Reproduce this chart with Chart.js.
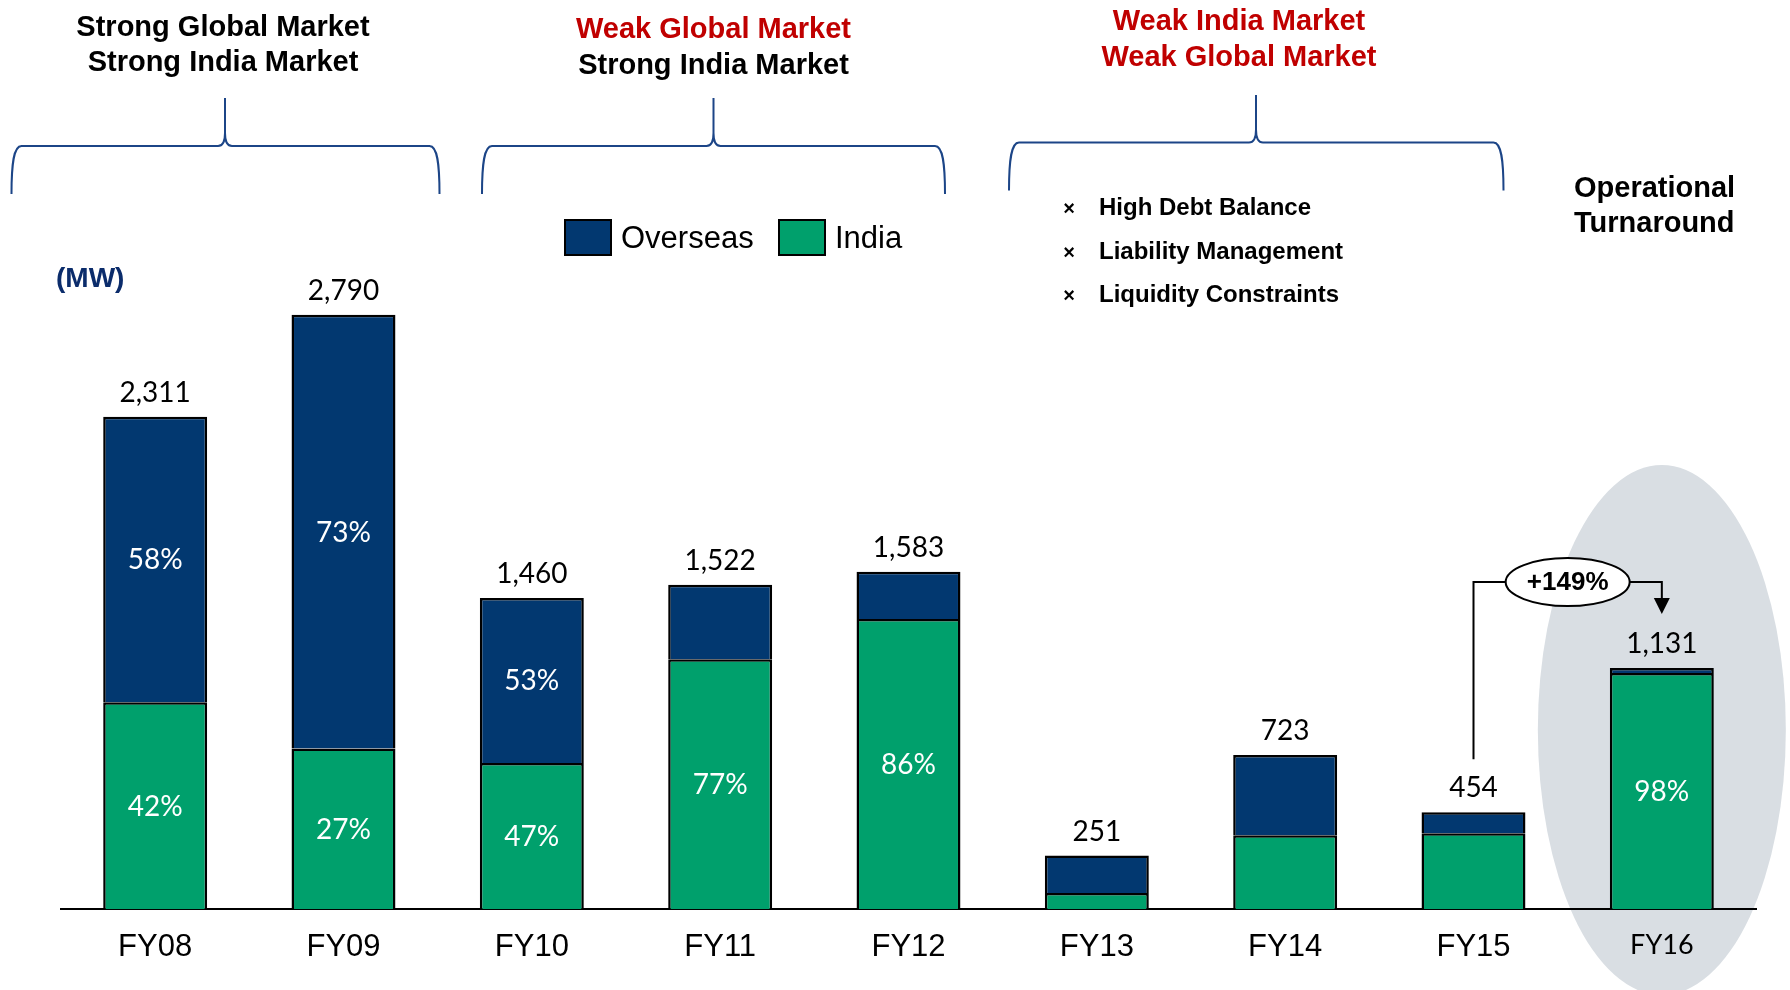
<!DOCTYPE html>
<html><head><meta charset="utf-8">
<script src="https://cdn.jsdelivr.net/npm/chart.js@4.4.1/dist/chart.umd.min.js"></script>
<style>html,body{margin:0;padding:0;background:#fff;}canvas{display:block;}</style>
</head><body>
<canvas id="c" width="1790" height="990"></canvas>
<script>
// ---------- data ----------
const categories = ['FY08','FY09','FY10','FY11','FY12','FY13','FY14','FY15','FY16'];
const indiaMW    = [971, 753, 686, 1172, 1361, 75, 346, 356, 1108];
const overseasMW = [1340, 2037, 774, 350, 222, 176, 377, 98, 23];
const indiaPctLabels    = ['42%','27%','47%','77%','86%',null,null,null,'98%'];
const overseasPctLabels = ['58%','73%','53%',null,null,null,null,null,null];
const seriesNames = ['Overseas','India'];
const unitLabel = '(MW)';
const bulletPoints = ['High Debt Balance','Liability Management','Liquidity Constraints'];
const phaseTitles = [
  [['Strong Global Market','#000'],['Strong India Market','#000']],
  [['Weak Global Market','#C00000'],['Strong India Market','#000']],
  [['Weak India Market','#C00000'],['Weak Global Market','#C00000']]
];
const turnaroundTitle = ['Operational','Turnaround'];

const NAVY = '#023870', GREEN = '#00A06C', BRACE = '#1c4587';
const ARIAL = '"Liberation Sans", Arial, sans-serif';
const CAL = 'Lato, "Open Sans", sans-serif';

function fmt(n){ return n.toLocaleString('en-US'); }

function brace(ctx, x0, x1, xc, yEnd, yH, yTip){
  const r = 10, tw = 7, th = 13;
  ctx.beginPath();
  ctx.moveTo(x0, yEnd);
  ctx.bezierCurveTo(x0, yH + 18, x0 + 2, yH, x0 + r, yH);
  ctx.lineTo(xc - tw, yH);
  ctx.quadraticCurveTo(xc, yH, xc, yH - th);
  ctx.lineTo(xc, yTip);
  ctx.moveTo(xc, yH - th);
  ctx.quadraticCurveTo(xc, yH, xc + tw, yH);
  ctx.lineTo(x1 - r, yH);
  ctx.bezierCurveTo(x1 - 2, yH, x1, yH + 18, x1, yEnd);
  ctx.stroke();
}

const decor = {
  id: 'decor',
  beforeDraw(chart){
    const ctx = chart.ctx, xs = chart.scales.x;
    const cx = xs.getPixelForValue(8);
    ctx.save();
    ctx.fillStyle = '#D9DEE3';
    ctx.beginPath();
    ctx.ellipse(cx, 730, 124, 265, 0, 0, Math.PI*2);
    ctx.fill();
    ctx.restore();
  },
  afterDatasetsDraw(chart){
    const ctx = chart.ctx, xs = chart.scales.x, ys = chart.scales.y;
    const mIndia = chart.getDatasetMeta(0), mOver = chart.getDatasetMeta(1);
    ctx.save();
    ctx.textAlign = 'center'; ctx.textBaseline = 'middle';
    ctx.fillStyle = '#fff';
    ctx.font = '28px ' + CAL;
    categories.forEach((c,i)=>{
      const bi = mIndia.data[i], bo = mOver.data[i];
      if (indiaPctLabels[i]) ctx.fillText(indiaPctLabels[i], bi.x, (bi.y + bi.base)/2 + 1);
      if (overseasPctLabels[i]) ctx.fillText(overseasPctLabels[i], bo.x, (bo.y + bo.base)/2 + 1);
    });
    ctx.fillStyle = '#000';
    ctx.font = '28px ' + CAL;
    const totals = categories.map((c,i)=>indiaMW[i]+overseasMW[i]);
    categories.forEach((c,i)=>{
      const x = xs.getPixelForValue(i), y = ys.getPixelForValue(totals[i]);
      ctx.fillText(fmt(totals[i]), x, y - 24);
    });
    // growth annotation FY15 -> FY16
    const i0 = 7, i1 = 8;
    const x0 = xs.getPixelForValue(i0), x1 = xs.getPixelForValue(i1);
    const t0 = ys.getPixelForValue(totals[i0]), t1 = ys.getPixelForValue(totals[i1]);
    const lineY = t1 - 86;
    const ecx = (x0 + x1)/2, erx = 62, ery = 24;
    ctx.strokeStyle = '#000'; ctx.lineWidth = 2;
    ctx.beginPath();
    ctx.moveTo(x0, t0 - 53); ctx.lineTo(x0, lineY); ctx.lineTo(ecx - erx, lineY);
    ctx.moveTo(ecx + erx, lineY); ctx.lineTo(x1, lineY); ctx.lineTo(x1, t1 - 68);
    ctx.stroke();
    ctx.fillStyle = '#000';
    ctx.beginPath();
    ctx.moveTo(x1 - 8, t1 - 70); ctx.lineTo(x1 + 8, t1 - 70); ctx.lineTo(x1, t1 - 54); ctx.closePath();
    ctx.fill();
    ctx.fillStyle = '#fff';
    ctx.beginPath(); ctx.ellipse(ecx, lineY, erx, ery, 0, 0, Math.PI*2); ctx.fill(); ctx.stroke();
    const growth = Math.round((totals[i1]/totals[i0] - 1)*100);
    ctx.fillStyle = '#000';
    ctx.font = 'bold 26px ' + ARIAL;
    ctx.fillText('+' + growth + '%', ecx, lineY + 1);
    ctx.restore();
  },
  afterDraw(chart){
    const ctx = chart.ctx;
    ctx.save();
    ctx.textAlign = 'center'; ctx.textBaseline = 'middle';
    ctx.font = 'bold 29px ' + ARIAL;
    const tPos = [[223, 27.5, 63],[713.5, 30, 65.5],[1239, 22, 57.5]];
    phaseTitles.forEach((lines,k)=>{
      lines.forEach((ln,j)=>{ ctx.fillStyle = ln[1]; ctx.fillText(ln[0], tPos[k][0], tPos[k][1+j]); });
    });
    ctx.textAlign = 'left'; ctx.fillStyle = '#000';
    ctx.fillText(turnaroundTitle[0], 1574, 189);
    ctx.fillText(turnaroundTitle[1], 1574, 223.5);
    ctx.strokeStyle = BRACE; ctx.lineWidth = 2;
    brace(ctx, 11.5, 439.5, 225, 194, 146, 98);
    brace(ctx, 482, 945, 713.5, 194, 146, 98);
    brace(ctx, 1009, 1503.5, 1256, 190.5, 142.5, 95);
    ctx.fillStyle = '#000';
    const by = [208.5, 252, 295.5];
    bulletPoints.forEach((b,i)=>{
      ctx.textAlign = 'center';
      ctx.font = 'bold 20px ' + ARIAL;
      ctx.fillText('\u00d7', 1069, by[i] + 1);
      ctx.textAlign = 'left';
      ctx.font = 'bold 24px ' + ARIAL;
      ctx.fillText(b, 1099, by[i]);
    });
    ctx.fillStyle = '#0b2c6b';
    ctx.font = 'bold 28px ' + ARIAL;
    ctx.fillText(unitLabel, 56, 279);
    const ds = chart.data.datasets;
    const legendItems = [[ds[1].label, ds[1].backgroundColor, 565],[ds[0].label, ds[0].backgroundColor, 779]];
    ctx.font = '31px ' + ARIAL;
    legendItems.forEach(it=>{
      ctx.fillStyle = it[1]; ctx.strokeStyle = '#000'; ctx.lineWidth = 2;
      ctx.fillRect(it[2], 220, 46, 35); ctx.strokeRect(it[2], 220, 46, 35);
      ctx.fillStyle = '#000';
      ctx.fillText(it[0], it[2] + 56, 239.5);
    });
    ctx.restore();
  }
};

new Chart(document.getElementById('c'), {
  type: 'bar',
  data: {
    labels: categories,
    datasets: [
      { label: seriesNames[1], data: indiaMW, backgroundColor: GREEN, borderColor: '#000', borderWidth: 2.5 },
      { label: seriesNames[0], data: overseasMW, backgroundColor: NAVY, borderColor: '#000', borderWidth: 2.5 }
    ]
  },
  options: {
    responsive: false, animation: false, devicePixelRatio: 1,
    datasets: { bar: { categoryPercentage: 1, barPercentage: 0.552 } },
    layout: { padding: { left: 61, right: 34, top: 270, bottom: 0 } },
    plugins: { legend: { display: false }, tooltip: { enabled: false } },
    scales: {
      x: {
        stacked: true,
        grid: { display: false, drawTicks: false },
        border: { display: true, color: '#000', width: 2 },
        ticks: {
          color: '#000', padding: 20,
          font: (ctx) => ctx.index === 8 ? { family: CAL, size: 27 } : { family: ARIAL, size: 31 }
        },
        afterFit: (s) => { s.height = 81; }
      },
      y: { stacked: true, display: false, min: 0, max: 3000 }
    }
  },
  plugins: [decor]
});
</script>
</body></html>
